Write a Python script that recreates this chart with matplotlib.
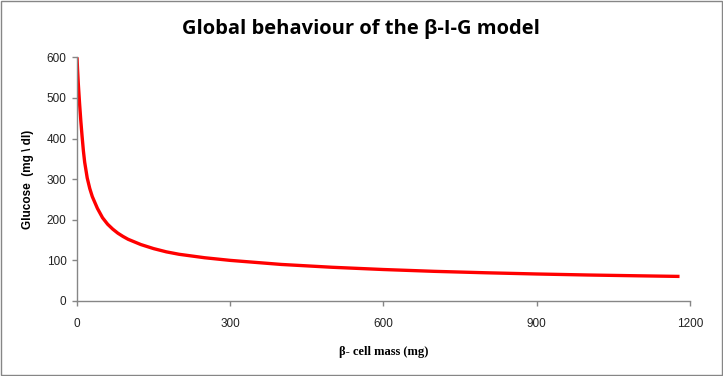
import numpy as np
import matplotlib
matplotlib.use("Agg")
from matplotlib import pyplot as plt
from matplotlib.patches import Rectangle

# values
beta_mass = [0, 1, 2.5, 5, 7.5, 10, 12.5, 15, 20, 25, 30, 40, 50, 60, 70, 80,
             90, 100, 125, 150, 175, 200, 250, 300, 400, 500, 600, 700, 800,
             900, 1000, 1100, 1180]
glucose = [600, 572, 536, 487, 443, 405, 370, 342, 303, 277, 257, 228, 205,
           189, 177, 167, 159, 152, 139, 129, 121, 115, 106.5, 100, 90, 83,
           77.5, 73, 69.5, 66.5, 64, 62, 60.5]
x_ticks = [0, 300, 600, 900, 1200]
y_ticks = [0, 100, 200, 300, 400, 500, 600]

grey = "#868686"

fig = plt.figure(figsize=(7.23, 3.76), dpi=100)
ax = fig.add_axes([0.1065, 0.1995, 0.8475, 0.648])

ax.plot(beta_mass, glucose, color="#ff0000", linewidth=2.4,
        solid_capstyle="butt", solid_joinstyle="round")

ax.set_xlim(0, 1200)
ax.set_ylim(0, 600)
ax.set_xticks(x_ticks)
ax.set_yticks(y_ticks)

for side in ["top", "right"]:
    ax.spines[side].set_visible(False)
for side in ["left", "bottom"]:
    ax.spines[side].set_color(grey)
    ax.spines[side].set_linewidth(1.0)

ax.tick_params(axis="both", direction="out", length=3.5, width=1.0,
               color=grey, labelsize=8.5, labelcolor="#222222")
ax.tick_params(axis="x", pad=9)
ax.tick_params(axis="y", pad=4)
for lab in ax.get_xticklabels() + ax.get_yticklabels():
    lab.set_fontfamily("Liberation Sans")

ax.set_xlabel("β- cell mass (mg)", fontsize=9, fontweight="bold",
              family="Liberation Serif", labelpad=11)
ax.set_ylabel("Glucose  (mg \\ dl)", fontsize=8.5, fontweight="bold",
              family="Liberation Sans", labelpad=9)

fig.text(0.499, 0.922, "Global behaviour of the β-I-G model", ha="center",
         va="center", fontsize=14.5, fontweight="bold", family="Open Sans")

# outer chart border
fig.patches.append(Rectangle((0.001, 0.002), 0.997, 0.995,
                             transform=fig.transFigure, fill=False,
                             edgecolor=grey, linewidth=1.0))

fig.savefig("out.png", dpi=100)
